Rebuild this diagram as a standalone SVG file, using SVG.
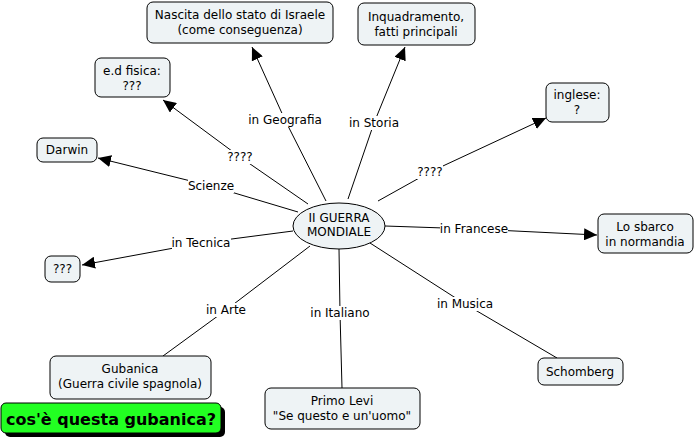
<svg xmlns="http://www.w3.org/2000/svg" width="696" height="442" viewBox="0 0 696 442">
<style>
.n{fill:#eef3f5;stroke:#000;stroke-width:1}
.t{font-family:"DejaVu Sans",Verdana,sans-serif;font-size:12px;fill:#000;text-anchor:middle}
.c{stroke:#000;stroke-width:1;fill:none}
.lb{fill:#fff}
</style>
<defs>
<marker id="ah" markerUnits="userSpaceOnUse" markerWidth="14" markerHeight="12" refX="13" refY="6" orient="auto">
<path d="M0,0 L13,6 L0,12 Z" fill="#000"/>
</marker>
</defs>
<rect width="696" height="442" fill="#fff"/>
<g id="connectors">
<path class="c" d="M326,201 L285,120"/><path class="c" d="M285,120 L252,47" marker-end="url(#ah)"/>
<path class="c" d="M348,199 L374,123"/><path class="c" d="M374,123 L405,47" marker-end="url(#ah)"/>
<path class="c" d="M308,204 L240,157"/><path class="c" d="M240,157 L163,100" marker-end="url(#ah)"/>
<path class="c" d="M298,212 L211,186"/><path class="c" d="M211,186 L98,158" marker-end="url(#ah)"/>
<path class="c" d="M293,231 L201,243"/><path class="c" d="M201,243 L82,265" marker-end="url(#ah)"/>
<path class="c" d="M378,201 L430,172"/><path class="c" d="M430,172 L546,118" marker-end="url(#ah)"/>
<path class="c" d="M385,226 L474,229"/><path class="c" d="M474,229 L597,235" marker-end="url(#ah)"/>
<path class="c" d="M310,246 L226,310 L163,356"/>
<path class="c" d="M339,249 L340,313 L342,388"/>
<path class="c" d="M370,243 L465,304 L557,358"/>
<g id="labels">
<rect class="lb" x="249" y="113" width="72" height="14"/><text class="t" x="285" y="124">in Geografia</text>
<rect class="lb" x="349" y="116" width="50" height="14"/><text class="t" x="374" y="127">in Storia</text>
<rect class="lb" x="227" y="150" width="26" height="14"/><text class="t" x="240" y="161">????</text>
<rect class="lb" x="188" y="179" width="46" height="14"/><text class="t" x="211" y="190">Scienze</text>
<rect class="lb" x="172" y="236" width="59" height="14"/><text class="t" x="201" y="247">in Tecnica</text>
<rect class="lb" x="417" y="165" width="26" height="14"/><text class="t" x="430" y="176">????</text>
<rect class="lb" x="440" y="222" width="68" height="14"/><text class="t" x="474" y="233">in Francese</text>
<rect class="lb" x="206" y="303" width="40" height="14"/><text class="t" x="226" y="314">in Arte</text>
<rect class="lb" x="310" y="306" width="61" height="14"/><text class="t" x="340" y="317">in Italiano</text>
<rect class="lb" x="437" y="297" width="55" height="14"/><text class="t" x="465" y="308">in Musica</text>
</g>
</g>
<g id="center"><ellipse class="n" cx="339" cy="226" rx="46" ry="23"/><text class="t" x="339" y="222">II GUERRA</text><text class="t" x="339" y="236">MONDIALE</text></g>
<g id="nascita"><rect class="n" x="147" y="2" width="186" height="41" rx="6"/><text class="t" x="240" y="19">Nascita dello stato di Israele</text><text class="t" x="240" y="34">(come conseguenza)</text></g>
<g id="inquadramento"><rect class="n" x="358" y="3" width="117" height="42" rx="6"/><text class="t" x="416" y="21">Inquadramento,</text><text class="t" x="416" y="36">fatti principali</text></g>
<g id="fisica"><rect class="n" x="95" y="58" width="75" height="39" rx="6"/><text class="t" x="132" y="75">e.d fisica:</text><text class="t" x="132" y="90">???</text></g>
<g id="darwin"><rect class="n" x="37" y="138" width="60" height="24" rx="6"/><text class="t" x="67" y="154">Darwin</text></g>
<g id="tecnica"><rect class="n" x="45" y="256" width="35" height="26" rx="6"/><text class="t" x="62.500" y="273">???</text></g>
<g id="inglese"><rect class="n" x="546" y="83" width="63" height="39" rx="6"/><text class="t" x="577" y="99">inglese:</text><text class="t" x="577" y="114">?</text></g>
<g id="sbarco"><rect class="n" x="598" y="214" width="95" height="39" rx="6"/><text class="t" x="645" y="231">Lo sbarco</text><text class="t" x="645" y="246">in normandia</text></g>
<g id="gubanica"><rect class="n" x="50" y="356" width="161" height="43" rx="6"/><text class="t" x="130" y="373">Gubanica</text><text class="t" x="130" y="388">(Guerra civile spagnola)</text></g>
<g id="levi"><rect class="n" x="265" y="388" width="155" height="41" rx="6"/><text class="t" x="342" y="405">Primo Levi</text><text class="t" x="342" y="420">"Se questo e un'uomo"</text></g>
<g id="schomberg"><rect class="n" x="538" y="358" width="85" height="27" rx="6"/><text class="t" x="580" y="376">Schomberg</text></g>
<g id="domanda"><rect x="5" y="407" width="220" height="30" rx="5" fill="#000"/><rect x="1" y="403" width="220" height="30" rx="5" fill="#22ff22" stroke="#000" stroke-width="1"/><text x="111" y="425" font-family="'DejaVu Sans',Verdana,sans-serif" font-size="16" font-weight="bold" text-anchor="middle" fill="#000">cos'è questa gubanica?</text></g>
</svg>
